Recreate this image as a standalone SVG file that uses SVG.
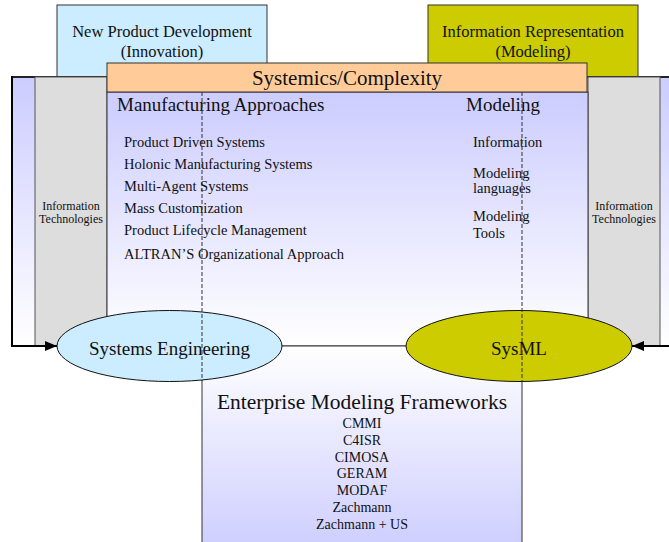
<svg xmlns="http://www.w3.org/2000/svg" width="669" height="542" viewBox="0 0 669 542">
<defs>
<linearGradient id="gTopPurple" x1="0" y1="0" x2="0" y2="1">
<stop offset="0" stop-color="#CCCCFF"/>
<stop offset="1" stop-color="#FFFFFF"/>
</linearGradient>
<linearGradient id="gBotPurple" x1="0" y1="0" x2="0" y2="1">
<stop offset="0" stop-color="#FFFFFF"/>
<stop offset="1" stop-color="#CCCCFF"/>
</linearGradient>
<marker id="arr" markerUnits="userSpaceOnUse" markerWidth="12" markerHeight="10" refX="12" refY="5" orient="auto">
<path d="M0,0 L12,5 L0,10 z" fill="#000"/>
</marker>
<style>
text { font-family: "Liberation Serif", "Times New Roman", serif; fill: #111; }
.box { stroke: #333; stroke-width: 1; }
.gray { fill: #DDDDDD; stroke: #555; stroke-width: 1; }
.c { text-anchor: middle; }
.t16 { font-size: 16.5px; }
.t19 { font-size: 19px; }
.t14 { font-size: 14.5px; }
.t12 { font-size: 12px; }
.t13 { font-size: 14px; }
.dash { stroke: #333; stroke-width: 1; stroke-dasharray: 4 2; fill: none; }
.conn { stroke: #000; stroke-width: 2; fill: none; }
</style>
</defs>

<g id="newProductDevelopment">
<rect class="box" x="57" y="5" width="210" height="80" fill="#CCECFF"/>
<text class="c t16" x="162" y="37">New Product Development</text>
<text class="c t16" x="162" y="57">(Innovation)</text>
</g>

<g id="informationRepresentation">
<rect class="box" x="428" y="5" width="210" height="80" fill="#CCCC00"/>
<text class="c t16" x="533" y="37">Information Representation</text>
<text class="c t16" x="533" y="57">(Modeling)</text>
</g>

<g id="frame">
<rect x="12" y="77" width="670" height="269" fill="url(#gTopPurple)"/>
<path d="M12,77 H669" stroke="#222" stroke-width="2" fill="none"/>
</g>

<g id="itLeft">
<rect class="gray" x="35" y="77" width="72" height="269"/>
<text class="c t12" x="71" y="210">Information</text>
<text class="c t12" x="71" y="223">Technologies</text>
</g>

<g id="itRight">
<rect class="gray" x="588" y="77" width="72" height="269"/>
<text class="c t12" x="624" y="210">Information</text>
<text class="c t12" x="624" y="223">Technologies</text>
</g>

<g id="mainBox">
<rect class="box" x="107" y="92" width="481" height="254" fill="url(#gTopPurple)"/>
<text class="t19" x="117" y="111">Manufacturing Approaches</text>
<text class="t14" x="124" y="147">Product Driven Systems</text>
<text class="t14" x="124" y="169">Holonic Manufacturing Systems</text>
<text class="t14" x="124" y="191">Multi-Agent Systems</text>
<text class="t14" x="124" y="213">Mass Customization</text>
<text class="t14" x="124" y="235">Product Lifecycle Management</text>
<text class="t14" x="124" y="259">ALTRAN’S Organizational Approach</text>
<text class="t19" x="466" y="111">Modeling</text>
<text class="t14" x="473" y="147">Information</text>
<text class="t14" x="473" y="178">Modeling</text>
<text class="t14" x="473" y="193">languages</text>
<text class="t14" x="473" y="221">Modeling</text>
<text class="t14" x="473" y="238">Tools</text>
</g>

<g id="systemics">
<rect class="box" x="107" y="63" width="480" height="29" fill="#FFCC99"/>
<text class="c" x="347" y="85" font-size="21">Systemics/Complexity</text>
</g>

<g id="enterpriseModelingFrameworks">
<rect class="box" x="202" y="346" width="320" height="210" fill="url(#gBotPurple)"/>
<text class="c" x="362" y="409" font-size="21.5">Enterprise Modeling Frameworks</text>
<text class="c t13" x="362" y="428">CMMI</text>
<text class="c t13" x="362" y="445">C4ISR</text>
<text class="c t13" x="362" y="462">CIMOSA</text>
<text class="c t13" x="362" y="478">GERAM</text>
<text class="c t13" x="362" y="495">MODAF</text>
<text class="c t13" x="362" y="512">Zachmann</text>
<text class="c t13" x="362" y="529">Zachmann + US</text>
</g>

<g id="systemsEngineering">
<ellipse cx="169.5" cy="346" rx="112.5" ry="35.5" fill="#CCECFF" stroke="#111" stroke-width="1"/>
<text class="c t19" x="169.5" y="355">Systems Engineering</text>
</g>

<g id="sysml">
<ellipse cx="519" cy="346" rx="113" ry="35.5" fill="#CCCC00" stroke="#111" stroke-width="1"/>
<text class="c t19" x="519" y="355">SysML</text>
</g>

<g id="connectors">
<path class="dash" d="M202,92 V381"/>
<path class="dash" d="M522,92 V381"/>
<path class="conn" d="M12,76 V346 H57" marker-end="url(#arr)"/>
<path class="conn" d="M670,346 H632" marker-end="url(#arr)"/>
</g>
</svg>
